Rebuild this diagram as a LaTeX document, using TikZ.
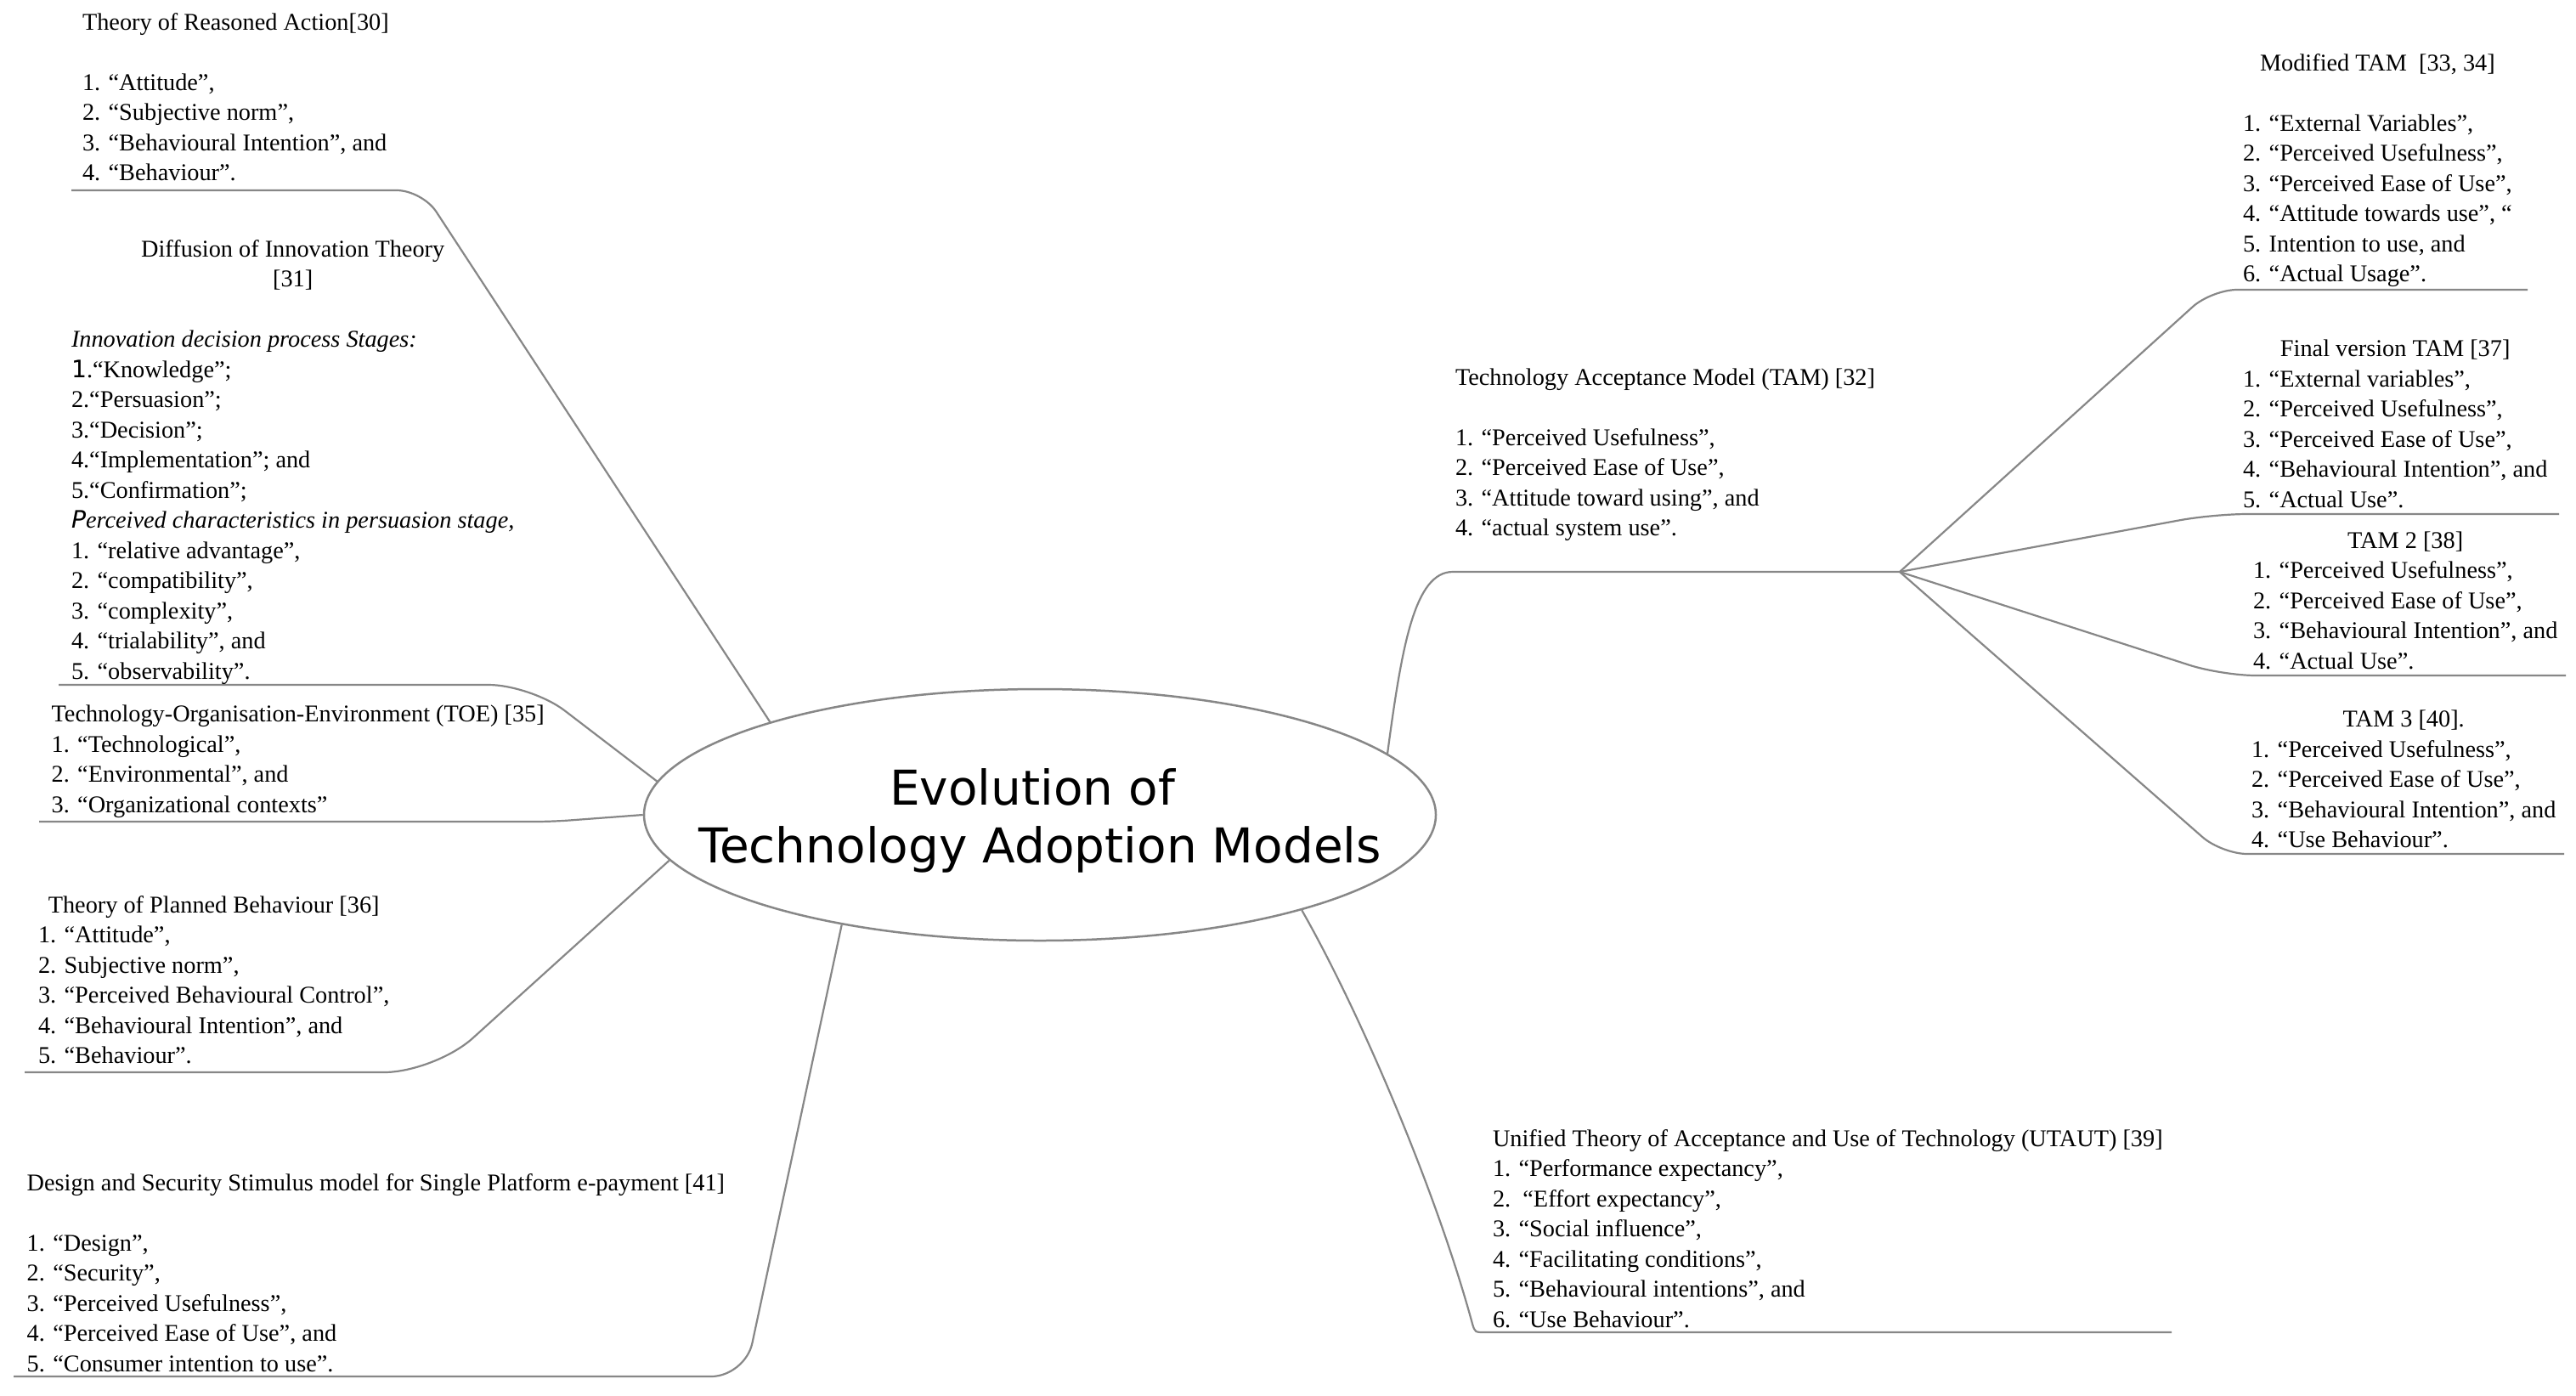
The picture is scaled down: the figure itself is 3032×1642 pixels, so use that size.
\documentclass[tikz,border=0pt]{standalone}
\usepackage{fontspec}
\setmainfont{Liberation Serif}
\newfontfamily\titlefont{DejaVu Sans}
\newfontfamily\sansone{DejaVu Sans}
\usetikzlibrary{shapes.geometric}
\definecolor{linegray}{RGB}{135,135,135}
\tikzset{
  conn/.style={draw=linegray, line width=2.2pt},
  blocktext/.style={anchor=base west, inner sep=0pt, outer sep=0pt, font=\fontsize{28.3}{35.5}\selectfont},
  hubellipse/.style={ellipse, draw=linegray, line width=2.5pt, fill=white, minimum width=932pt, minimum height=296pt, inner sep=0pt},
  titletext/.style={font=\titlefont\fontsize{56.5}{68}\selectfont, align=center, inner sep=0pt}
}
\newcommand{\ctitle}[1]{\multicolumn{1}{@{}c@{}}{#1}}
\begin{document}
\begin{tikzpicture}[x=1pt,y=-1pt]
\fill[white] (0,0) rectangle (3032,1642);
\useasboundingbox (0,0) rectangle (3032,1642);

% central ellipse
\node[hubellipse] (center) at (1224,959) {};
\node[titletext] (title) at (1224,966) {Evolution of\kern18pt\\Technology Adoption Models};

% named coordinates for connector corners and free ends
\coordinate (traK) at (497,224);   \coordinate (traU) at (84,224);
\coordinate (doiK) at (625,806);   \coordinate (doiU) at (69,806);
\coordinate (toeK) at (650,967);   \coordinate (toeU) at (46,967);
\coordinate (tpbK) at (512,1262);  \coordinate (tpbU) at (29,1262);
\coordinate (dssK) at (877,1620);  \coordinate (dssU) at (16,1620);
\coordinate (utaK) at (1748,1568); \coordinate (utaU) at (2556,1568);
\coordinate (tamK) at (1710,673);  \coordinate (hub) at (2236,673);
\coordinate (modK) at (2603,341);  \coordinate (modU) at (2975,341);
\coordinate (finK) at (2605,605);  \coordinate (finU) at (3012,605);
\coordinate (tt2K) at (2615,795);  \coordinate (tt2U) at (3020,795);
\coordinate (tt3K) at (2615,1005); \coordinate (tt3U) at (3018,1005);

% connectors
\draw[conn, rounded corners=30pt] (center.161.94) -- (traK) -- (traU);
\draw[conn, rounded corners=50pt] (center.175.4) -- (doiK) -- (doiU);
\draw[conn, rounded corners=20pt] (center.180) -- (toeK) -- (toeU);
\draw[conn, rounded corners=60pt] (center.187.5) -- (tpbK) -- (tpbU);
\draw[conn, rounded corners=40pt] (center.209.78) -- (dssK) -- (dssU);
\draw[conn] (center.340.06) .. controls (1600,1190) and (1690,1400) .. (1733,1558) .. controls (1736,1568) .. (utaK) -- (utaU);
\draw[conn] (center.10.92) .. controls (1650,760) and (1665,673) .. (tamK) -- (hub);
\draw[conn, rounded corners=30pt] (hub) -- (modK) -- (modU);
\draw[conn, rounded corners=40pt] (hub) -- (finK) -- (finU);
\draw[conn, rounded corners=40pt] (hub) -- (tt2K) -- (tt2U);
\draw[conn, rounded corners=30pt] (hub) -- (tt3K) -- (tt3U);

% left blocks
\node[blocktext] (tra) at (97,35) {\begin{tabular}[t]{@{}l@{}}
Theory of Reasoned Action[30]\\
\\
1. “Attitude”,\\
2. “Subjective norm”,\\
3. “Behavioural Intention”, and\\
4. “Behaviour”.
\end{tabular}};

\node[blocktext] (doi) at (84,302) {\begin{tabular}[t]{@{}l@{}}
\ctitle{Diffusion of Innovation Theory}\\
\ctitle{[31]}\\
\\
\textit{Innovation decision process Stages:}\\
{\sansone 1}.“Knowledge”;\\
2.“Persuasion”;\\
3.“Decision”;\\
4.“Implementation”; and\\
5.“Confirmation”;\\
\textit{{\sansone P}erceived characteristics in persuasion stage,}\\
1. “relative advantage”,\\
2. “compatibility”,\\
3. “complexity”,\\
4. “trialability”, and\\
5. “observability”.
\end{tabular}};

\node[blocktext] (toe) at (60.6,849.5) {\begin{tabular}[t]{@{}l@{}}
Technology-Organisation-Environment (TOE) [35]\\
1. “Technological”,\\
2. “Environmental”, and\\
3. “Organizational contexts”
\end{tabular}};

\node[blocktext] (tpb) at (45,1074) {\begin{tabular}[t]{@{}l@{}}
\ctitle{Theory of Planned Behaviour [36]}\\
1. “Attitude”,\\
2. Subjective norm”,\\
3. “Perceived Behavioural Control”,\\
4. “Behavioural Intention”, and\\
5. “Behaviour”.
\end{tabular}};

\node[blocktext] (dss) at (31.7,1401) {\begin{tabular}[t]{@{}l@{}}
Design and Security Stimulus model for Single Platform e-payment [41]\\
\\
1. “Design”,\\
2. “Security”,\\
3. “Perceived Usefulness”,\\
4. “Perceived Ease of Use”, and\\
5. “Consumer intention to use”.
\end{tabular}};

% right blocks
\node[blocktext] (tam) at (1713,453) {\begin{tabular}[t]{@{}l@{}}
Technology Acceptance Model (TAM) [32]\\
\\
1. “Perceived Usefulness”,\\
2. “Perceived Ease of Use”,\\
3. “Attitude toward using”, and\\
4. “actual system use”.
\end{tabular}};

\node[blocktext] (utaut) at (1757,1349) {\begin{tabular}[t]{@{}l@{}}
Unified Theory of Acceptance and Use of Technology (UTAUT) [39]\\
1. “Performance expectancy”,\\
2.\ \ “Effort expectancy”,\\
3. “Social influence”,\\
4. “Facilitating conditions”,\\
5. “Behavioural intentions”, and\\
6. “Use Behaviour”.
\end{tabular}};

\node[blocktext] (modtam) at (2640,83) {\begin{tabular}[t]{@{}l@{}}
\ctitle{Modified TAM\ \ [33, 34]}\\
\\
1. “External Variables”,\\
2. “Perceived Usefulness”,\\
3. “Perceived Ease of Use”,\\
4. “Attitude towards use”, “\\
5. Intention to use, and\\
6. “Actual Usage”.
\end{tabular}};

\node[blocktext] (fintam) at (2640,419.5) {\begin{tabular}[t]{@{}l@{}}
\ctitle{Final version TAM [37]}\\
1. “External variables”,\\
2. “Perceived Usefulness”,\\
3. “Perceived Ease of Use”,\\
4. “Behavioural Intention”, and\\
5. “Actual Use".
\end{tabular}};

\node[blocktext] (tamtwo) at (2652,645) {\begin{tabular}[t]{@{}l@{}}
\ctitle{TAM 2 [38]}\\
1. “Perceived Usefulness”,\\
2. “Perceived Ease of Use”,\\
3. “Behavioural Intention”, and\\
4. “Actual Use”.
\end{tabular}};

\node[blocktext] (tamthree) at (2650,855.7) {\begin{tabular}[t]{@{}l@{}}
\ctitle{TAM 3 [40].}\\
1. “Perceived Usefulness”,\\
2. “Perceived Ease of Use”,\\
3. “Behavioural Intention”, and\\
4. “Use Behaviour”.
\end{tabular}};
\end{tikzpicture}
\end{document}
